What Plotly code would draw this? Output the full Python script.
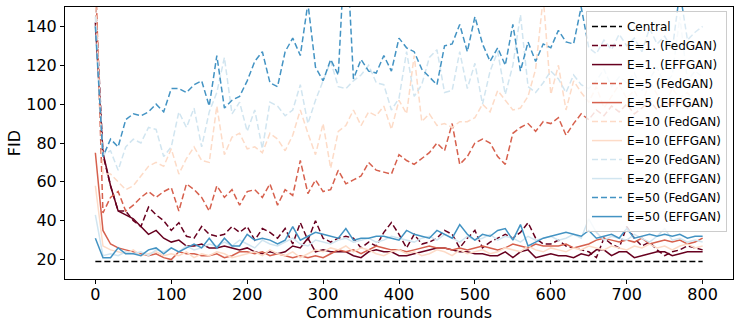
import plotly.graph_objects as go

# communication rounds (one point every 10 rounds)
rounds = list(range(0, 810, 10))

central_fid = 19

e1_fedgan = [155, 74, 58, 45, 45, 40, 37, 47, 43, 40,
             35, 39, 32, 31, 37, 33, 32, 33, 37, 34,
             37, 30, 36, 34, 31, 36, 28, 39, 30, 40,
             31, 29, 31, 32, 31, 26, 29, 27, 34, 39,
             33, 26, 33, 28, 29, 31, 35, 33, 26, 31,
             35, 26, 29, 31, 33, 31, 34, 39, 31, 28,
             28, 30, 27, 26, 25, 24, 21, 31, 28, 26,
             37, 31, 27, 29, 25, 22, 24, 25, 27, 26,
             25]
e1_effgan = [142, 75, 58, 45, 43, 41, 37, 33, 35, 31,
             29, 30, 27, 27, 28, 26, 26, 27, 26, 25,
             26, 24, 23, 24, 23, 24, 27, 26, 31, 24,
             25, 24, 24, 24, 22, 21, 24, 25, 24, 24,
             22, 22, 23, 24, 25, 26, 26, 25, 24, 24,
             23, 23, 22, 22, 24, 21, 24, 25, 21, 22,
             23, 22, 22, 21, 23, 22, 25, 25, 22, 24,
             24, 21, 22, 23, 24, 24, 22, 23, 24, 24,
             24]
e5_fedgan = [170, 44, 52, 55, 45, 48, 52, 55, 52, 55,
             57, 45, 59, 56, 52, 45, 58, 52, 56, 48,
             55, 56, 52, 59, 48, 56, 53, 71, 54, 61,
             55, 56, 66, 59, 61, 63, 70, 66, 65, 64,
             74, 71, 69, 72, 75, 80, 76, 90, 69, 73,
             80, 82, 80, 73, 69, 85, 88, 90, 86, 91,
             90, 93, 84, 90, 95, 92, 97, 94, 99, 96,
             100, 95, 98, 102, 97, 101, 99, 103, 98, 100,
             102]
e5_effgan = [75, 35, 28, 26, 25, 24, 23, 22, 23, 21,
             20, 24, 23, 23, 22, 22, 23, 21, 22, 24,
             24, 23, 24, 22, 23, 22, 21, 22, 21, 22,
             21, 23, 25, 24, 25, 23, 25, 27, 26, 25,
             25, 24, 25, 26, 27, 26, 26, 25, 26, 25,
             26, 27, 26, 25, 26, 28, 27, 26, 28, 27,
             27, 27, 28, 26, 27, 28, 30, 31, 30, 29,
             30, 29, 31, 28, 29, 30, 29, 30, 28, 29,
             31]
e10_fedgan = [155, 64, 64, 60, 56, 58, 63, 68, 70, 68,
              77, 64, 72, 78, 71, 70, 99, 74, 83, 85,
              77, 78, 75, 85, 82, 76, 84, 97, 85, 74,
              90, 67, 86, 89, 97, 89, 96, 94, 99, 87,
              102, 95, 125, 91, 95, 89, 90, 88, 91, 91,
              93, 100, 96, 107, 102, 97, 98, 104, 118, 155,
              105, 120, 97, 112, 106, 101, 109, 98, 104, 110,
              103, 107, 99, 112, 105, 100, 108, 103, 106, 101,
              104]
e10_effgan = [58, 27, 25, 24, 23, 25, 22, 23, 24, 22,
              23, 22, 24, 21, 23, 22, 24, 23, 21, 22,
              23, 24, 22, 25, 23, 22, 24, 21, 23, 25,
              24, 26, 25, 27, 24, 26, 25, 23, 22, 24,
              25, 23, 24, 22, 23, 25, 24, 22, 25, 23,
              24, 25, 23, 24, 26, 25, 24, 27, 25, 24,
              26, 25, 24, 26, 25, 27, 26, 25, 27, 26,
              25, 27, 26, 28, 26, 27, 25, 27, 28, 26,
              27]
e20_fedgan = [145, 74, 76, 66, 78, 82, 80, 88, 87, 73,
              78, 96, 88, 98, 78, 96, 106, 124, 95, 101,
              86, 97, 77, 101, 99, 94, 97, 110, 90, 102,
              112, 122, 109, 108, 112, 115, 120, 111, 110, 97,
              103, 127, 104, 110, 124, 128, 106, 107, 127, 108,
              121, 100, 117, 127, 105, 120, 146, 109, 106, 111,
              117, 113, 106, 115, 110, 108, 112, 118, 109, 114,
              111, 116, 107, 113, 119, 110, 115, 145, 112, 117,
              114]
e20_effgan = [43, 22, 23, 22, 24, 23, 24, 22, 25, 24,
              26, 24, 27, 25, 26, 28, 27, 29, 27, 30,
              28, 26, 30, 28, 27, 29, 31, 28, 27, 30,
              29, 28, 30, 31, 29, 30, 31, 29, 30, 32,
              31, 30, 29, 31, 32, 30, 33, 31, 29, 32,
              30, 31, 33, 30, 32, 31, 29, 32, 30, 31,
              32, 30, 31, 33, 31, 41, 34, 30, 32, 31,
              30, 33, 31, 29, 32, 36, 30, 31, 29, 30,
              29]
e50_fedgan = [140, 73, 82, 78, 92, 95, 94, 96, 100, 96,
              108, 108, 106, 110, 112, 99, 125, 98, 102, 104,
              112, 122, 127, 111, 109, 127, 134, 125, 152, 119,
              112, 123, 115, 190, 113, 123, 117, 116, 125, 117,
              134, 129, 127, 118, 114, 110, 130, 131, 141, 127,
              145, 131, 122, 129, 120, 141, 117, 132, 122, 131,
              129, 138, 132, 131, 150, 129, 126, 133, 128, 136,
              130, 134, 127, 139, 131, 135, 128, 158, 133, 137,
              140]
e50_effgan = [31, 21, 21, 26, 23, 23, 22, 25, 26, 23,
              26, 24, 26, 28, 26, 31, 26, 31, 27, 27,
              33, 30, 31, 30, 28, 30, 37, 30, 32, 34,
              33, 32, 31, 36, 30, 31, 31, 32, 32, 31,
              30, 35, 33, 32, 31, 35, 33, 31, 38, 33,
              30, 33, 32, 35, 36, 30, 38, 27, 29, 31,
              32, 33, 34, 33, 32, 35, 31, 32, 33, 31,
              36, 31, 32, 33, 32, 33, 32, 33, 31, 32,
              32]

series = [
    ("E=1. (FedGAN)", e1_fedgan, "#67001f", "6px,3px"),
    ("E=1. (EFFGAN)", e1_effgan, "#67001f", "solid"),
    ("E=5 (FedGAN)", e5_fedgan, "#d6604d", "6px,3px"),
    ("E=5 (EFFGAN)", e5_effgan, "#d6604d", "solid"),
    ("E=10 (FedGAN)", e10_fedgan, "#fddbc7", "6px,3px"),
    ("E=10 (EFFGAN)", e10_effgan, "#fddbc7", "solid"),
    ("E=20 (FedGAN)", e20_fedgan, "#d1e5f0", "6px,3px"),
    ("E=20 (EFFGAN)", e20_effgan, "#d1e5f0", "solid"),
    ("E=50 (FedGAN)", e50_fedgan, "#4393c3", "6px,3px"),
    ("E=50 (EFFGAN)", e50_effgan, "#4393c3", "solid"),
]

fig = go.Figure()
fig.add_trace(go.Scatter(
    x=[rounds[0], rounds[-1]], y=[central_fid, central_fid],
    mode="lines", name="Central",
    line=dict(color="black", width=1.5, dash="6px,3px"),
))
for name, vals, color, dash in series:
    fig.add_trace(go.Scatter(
        x=rounds, y=vals, mode="lines", name=name,
        line=dict(color=color, width=1.5, dash=dash),
    ))

axis_style = dict(
    showline=True, linecolor="black", linewidth=1, mirror=True,
    ticks="outside", ticklen=4, tickcolor="black",
    showgrid=False, zeroline=False, automargin=False,
    tickfont=dict(size=16, color="black"),
    title_font=dict(size=16, color="black"),
)

fig.update_layout(
    width=740, height=327,
    margin=dict(l=65, r=7, t=7, b=48),
    paper_bgcolor="white", plot_bgcolor="white",
    font=dict(family="DejaVu Sans", color="black"),
    xaxis=dict(range=[-40, 840], dtick=100, ticklabelstandoff=-3, **axis_style),
    yaxis=dict(range=[10, 150], tickvals=[20, 40, 60, 80, 100, 120, 140], title=dict(text="FID", standoff=1), **axis_style),
    showlegend=True,
    legend=dict(
        x=0.991, y=0.985, xanchor="right", yanchor="top",
        bgcolor="rgba(255,255,255,0.8)", bordercolor="#cccccc", borderwidth=1,
        font=dict(size=12, color="black"),
        tracegroupgap=0, itemwidth=30,
    ),
)
# x title as an annotation so it sits just under the tick labels
fig.add_annotation(
    text="Communication rounds", xref="paper", yref="paper",
    x=0.5, y=-0.124, xanchor="center", yanchor="middle",
    showarrow=False, font=dict(size=16, color="black"),
)

# drop the default page margin so the 740x327 figure sits at the top-left corner
fig.write_html("out.html", config={"displayModeBar": False},
               post_script="document.body.style.margin='0';")
